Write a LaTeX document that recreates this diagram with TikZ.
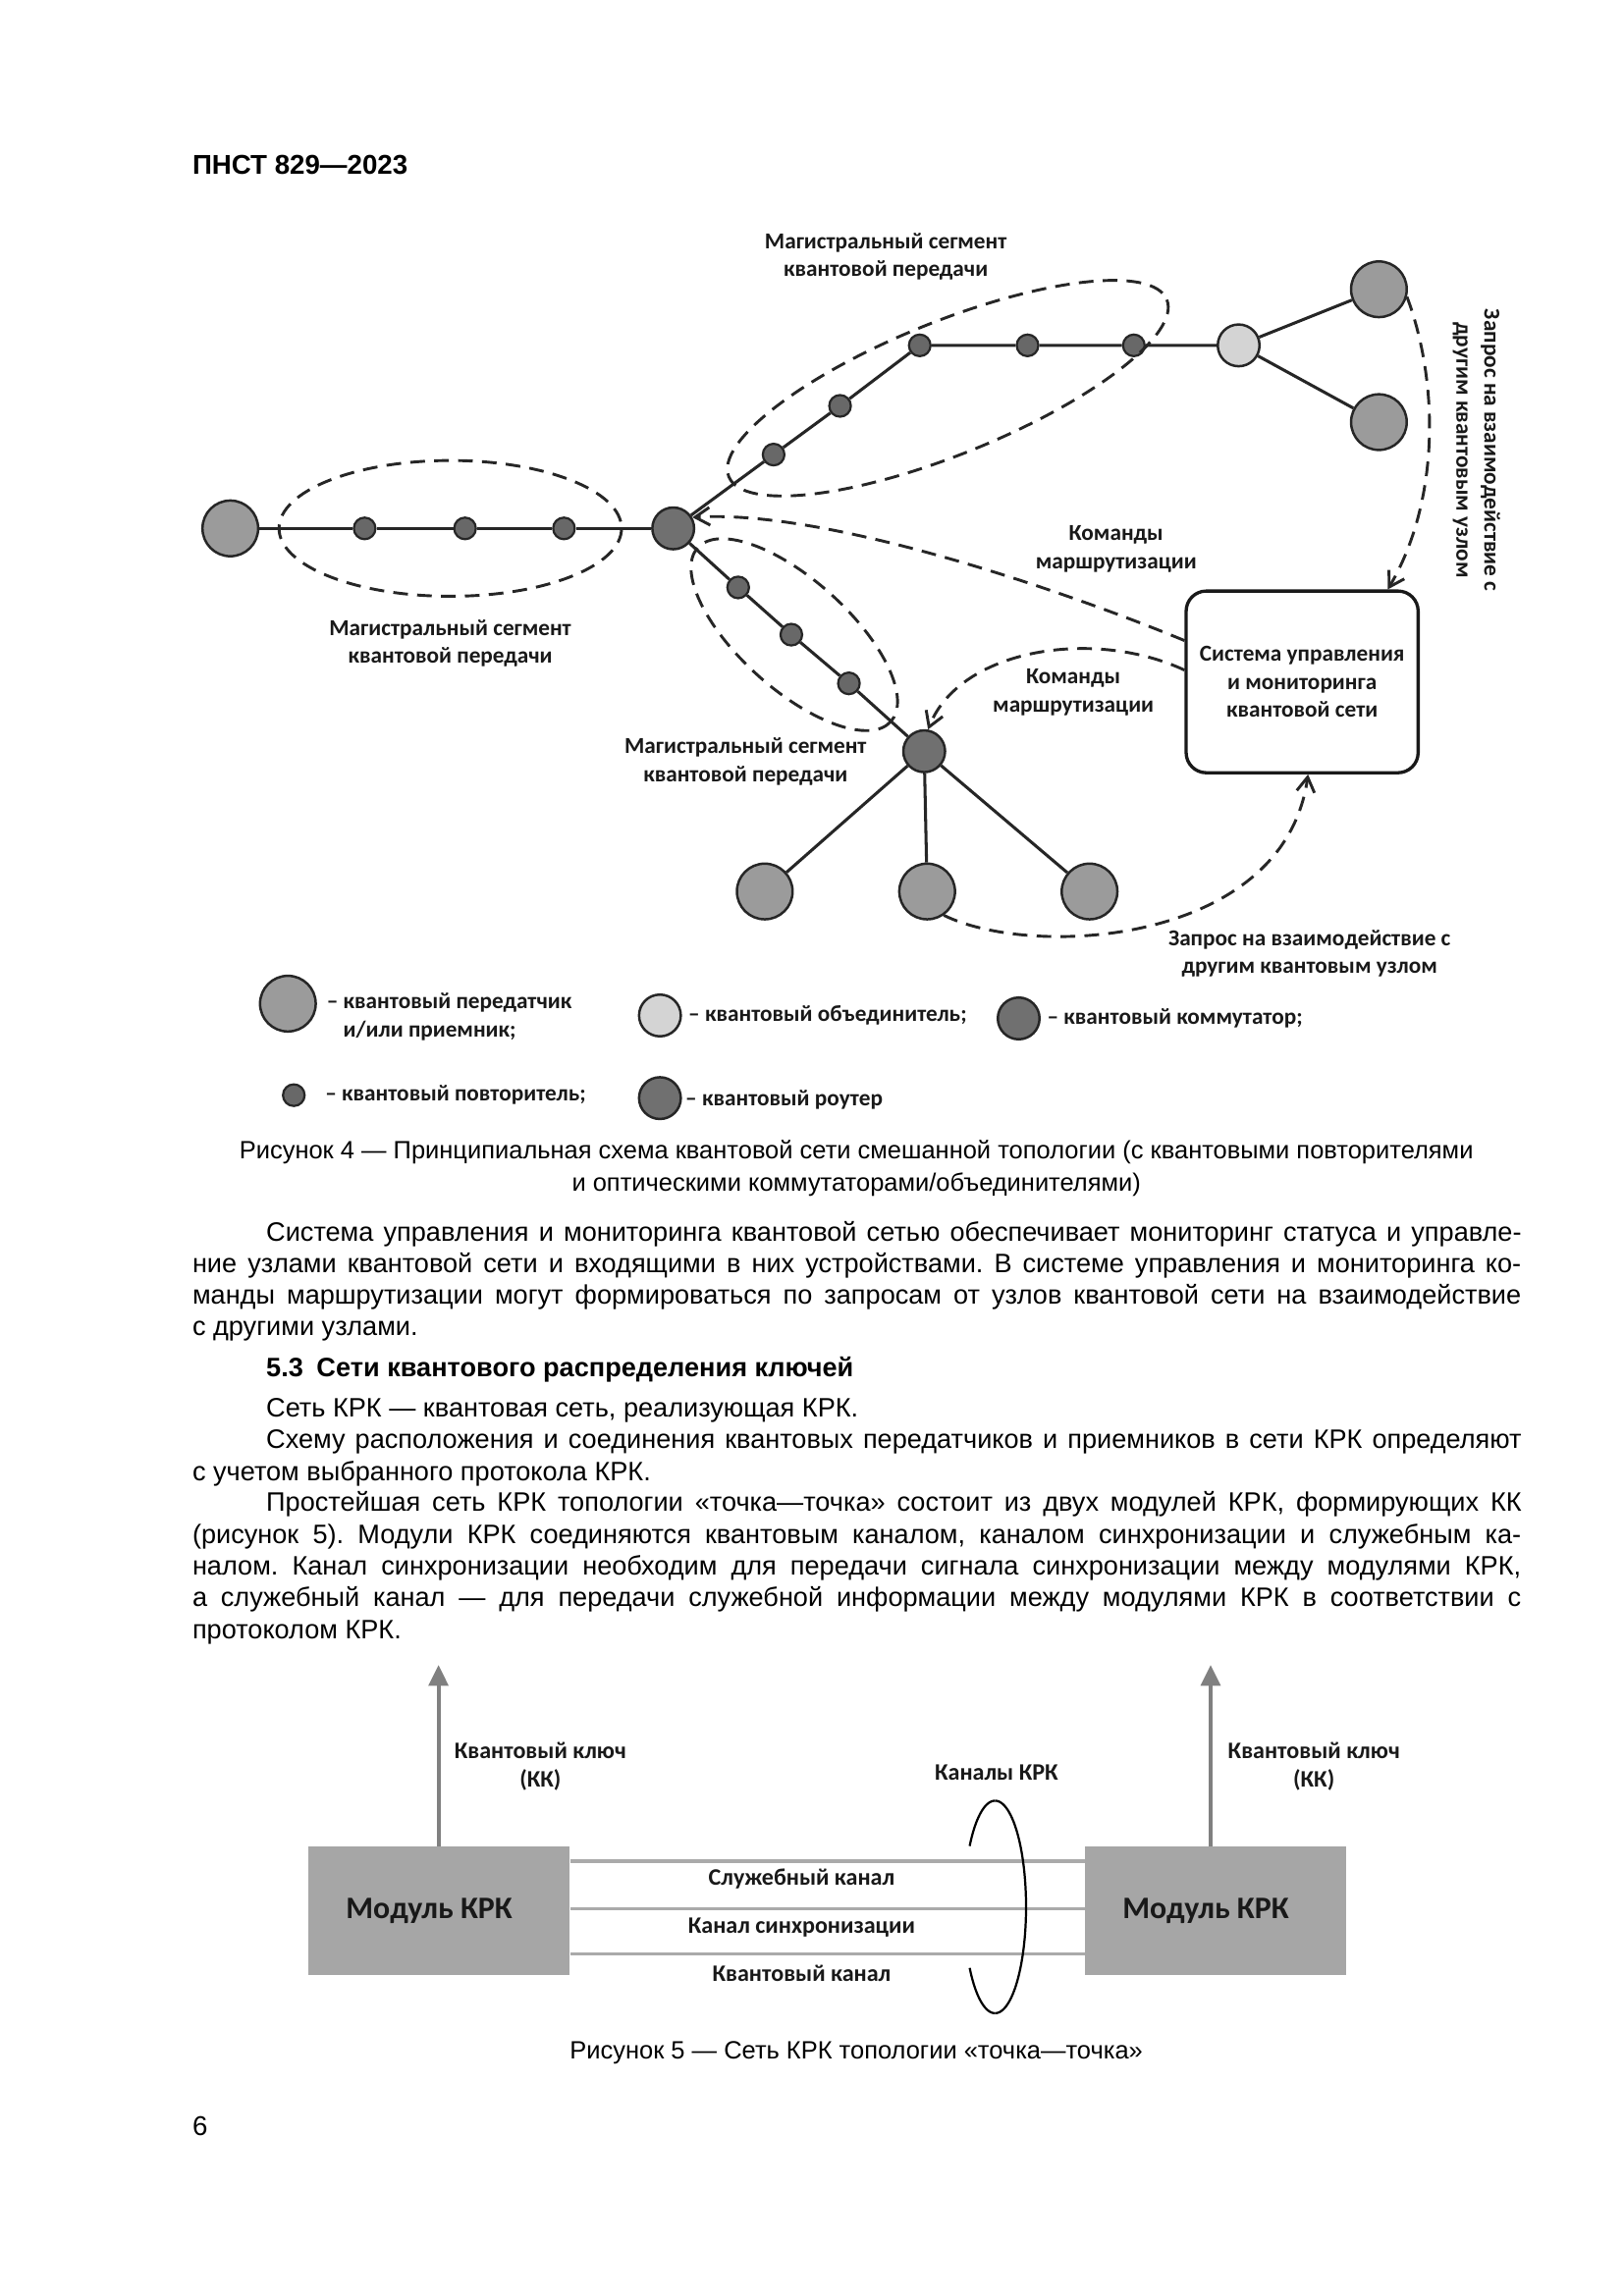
\documentclass[tikz,border=0pt]{standalone}
\usepackage{fontspec}
\setmainfont{Liberation Sans}
\newfontfamily\figfont{Carlito}
\usetikzlibrary{arrows.meta}
\definecolor{cterm}{RGB}{155,155,155}
\definecolor{crout}{RGB}{112,112,112}
\definecolor{crep}{RGB}{104,104,104}
\definecolor{ccomb}{RGB}{212,212,212}
\definecolor{cmod}{RGB}{166,166,166}
\definecolor{cchan}{RGB}{170,170,170}
\definecolor{ckey}{RGB}{128,128,128}
\frenchspacing

\begin{document}
\begin{tikzpicture}[x=0.190909mm, y=-0.190909mm,
    every node/.style={inner sep=0pt},
    term/.style={circle, draw=black!85, line width=0.9pt, fill=cterm, minimum size=7.2mm},
    router/.style={circle, draw=black!85, line width=0.9pt, fill=crout, minimum size=5.4mm},
    combiner/.style={router, fill=ccomb},
    rep/.style={circle, draw=black!85, line width=0.8pt, fill=crep, minimum size=2.8mm},
    link/.style={line width=1.1pt, draw=black!85},
    seg/.style={line width=1.05pt, draw=black!85, dash pattern=on 5.4pt off 3.4pt},
    req/.style={seg, -{Straight Barb[length=1.9mm, width=2.3mm]}},
    lbl/.style={font=\figfont\bfseries\fontsize{8.4}{10.3}\selectfont, align=center, text=black!90},
    lblb/.style={font=\figfont\bfseries\fontsize{8.7}{10.6}\selectfont, align=center, text=black!90},
    module/.style={fill=cmod, minimum width=33.8mm, minimum height=16.6mm,
      font=\figfont\bfseries\fontsize{11.5}{13}\selectfont, text=black!90},
    chan/.style={line width=1.2pt, draw=cchan},
    key/.style={line width=1.5pt, draw=ckey, -{Triangle[length=2.7mm, width=2.5mm, fill=ckey]}},
    body/.style={font=\fontsize{9.8}{11.7}\selectfont, anchor=base west},
    capt/.style={font=\fontsize{9.2}{11}\selectfont, anchor=base},
  ]
  \fill[white] (0,0) rectangle (1100,1555.6);
  \useasboundingbox (0,0) rectangle (1100,1555.6);

  % Encabezado
  \node[font=\bfseries\fontsize{10}{12}\selectfont, anchor=base west] (hdr) at (130,118) {ПНСТ 829—2023};

  % Nodos de la red
  \node[term] (tL) at (156,358) {};
  \node[rep] (a1) at (247,358) {};
  \node[rep] (a2) at (315,358) {};
  \node[rep] (a3) at (382,358) {};
  \node[router] (rt) at (456,358) {};
  \node[rep] (b1) at (524,308) {};
  \node[rep] (b2) at (569,275) {};
  \node[rep] (b3) at (623,234) {};
  \node[rep] (b4) at (696,234) {};
  \node[rep] (b5) at (768,234) {};
  \node[combiner] (cb) at (839,234) {};
  \node[term] (tU) at (934,196) {};
  \node[term] (tD) at (934,286) {};
  \node[rep] (c1) at (500,398) {};
  \node[rep] (c2) at (536,430) {};
  \node[rep] (c3) at (575,463) {};
  \node[router] (sw) at (626,509) {};
  \node[term] (s1) at (518,604) {};
  \node[term] (s2) at (628,604) {};
  \node[term] (s3) at (738,604) {};

  % Enlaces
  \draw[link] (tL) -- (a1) -- (a2) -- (a3) -- (rt);
  \draw[link] (rt) -- (b1) -- (b2) -- (b3) -- (b4) -- (b5) -- (cb);
  \draw[link] (cb) -- (tU);
  \draw[link] (cb) -- (tD);
  \draw[link] (rt) -- (c1) -- (c2) -- (c3) -- (sw);
  \draw[link] (sw) -- (s1);
  \draw[link] (sw) -- (s2);
  \draw[link] (sw) -- (s3);

  % Segmentos (elipses)
  \draw[seg] (305,358) ellipse (116 and 46);
  \draw[seg, rotate around={22:(642,263)}] (642,263) ellipse (160 and 45);
  \draw[seg, rotate around={-42:(538,430)}] (538,430) ellipse (88 and 37);
  \node[lbl] (segL) at (305,436) {Магистральный сегмент\\квантовой передачи};
  \node[lbl] (segU) at (600,174) {Магистральный сегмент\\квантовой передачи};
  \node[lbl] (segD) at (505,516) {Магистральный сегмент\\квантовой передачи};

  % Sistema de control
  \node[lbl, draw=black!90, line width=1.2pt, rounded corners=2.6mm,
    minimum width=30mm, minimum height=23.5mm] (ctrl) at (882,462)
    {Система управления\\и мониторинга\\квантовой сети};

  % Flechas discontinuas
  \draw[req] (ctrl.west |- 0,434) .. controls (720,400) and (560,345) .. (rt.30);
  \draw[req] (ctrl.west |- 0,454) .. controls (740,425) and (650,440) .. (sw.80);
  \draw[req] (s2.-55) .. controls (700,650) and (870,640) .. (ctrl.south -| 886,0);
  \draw[req] (tU.-15) .. controls (975,260) and (975,340) .. (ctrl.north -| 940,0);
  \node[lbl] (cmdU) at (756,372) {Команды\\маршрутизации};
  \node[lbl] (cmdD) at (727,469) {Команды\\маршрутизации};
  \node[lbl, rotate=-90] (reqU) at (1000,305) {Запрос на взаимодействие с\\другим квантовым узлом};
  \node[lbl] (reqD) at (887,646) {Запрос на взаимодействие с\\другим квантовым узлом};

  % Leyenda
  \node[term] (lgT) at (195,680) {};
  \node[lbl, anchor=west, align=left] (lgTt) at (221,689) {– квантовый передатчик\\\hphantom{–~}и/или приемник;};
  \node[combiner] (lgC) at (447,688) {};
  \node[lbl, anchor=west] (lgCt) at (466,688) {– квантовый объединитель;};
  \node[router] (lgS) at (690,690) {};
  \node[lbl, anchor=west] (lgSt) at (709,690) {– квантовый коммутатор;};
  \node[rep] (lgR) at (199,742) {};
  \node[lbl, anchor=west] (lgRt) at (220,742) {– квантовый повторитель;};
  \node[router] (lgQ) at (447,744) {};
  \node[lbl, anchor=west] (lgQt) at (464,745) {– квантовый роутер};

  % Pie de figura 4
  \node[capt] (cap4a) at (580,785) {Рисунок 4 — Принципиальная схема квантовой сети смешанной топологии (с квантовыми повторителями};
  \node[capt] (cap4b) at (580,807) {и оптическими коммутаторами/объединителями)};

  % Texto
  \node[body] (p1a) at (180,841) {\makebox[162.3mm][s]{Система управления и мониторинга квантовой сетью обеспечивает мониторинг статуса и управле-}};
  \node[body] (p1b) at (130,862) {\makebox[171.8mm][s]{ние узлами квантовой сети и входящими в них устройствами. В системе управления и мониторинга ко-}};
  \node[body] (p1c) at (130,883.5) {\makebox[171.8mm][s]{манды маршрутизации могут формироваться по запросам от узлов квантовой сети на взаимодействие}};
  \node[body] (p1d) at (130,905) {с другими узлами.};
  \node[body, font=\bfseries\fontsize{9.8}{11.7}\selectfont] (h53) at (180,933) {5.3\hspace{0.5em}Сети квантового распределения ключей};
  \node[body] (p2a) at (180,960) {Сеть КРК — квантовая сеть, реализующая КРК.};
  \node[body] (p3a) at (180,981.5) {\makebox[162.3mm][s]{Схему расположения и соединения квантовых передатчиков и приемников в сети КРК определяют}};
  \node[body] (p3b) at (130,1003) {с учетом выбранного протокола КРК.};
  \node[body] (p4a) at (180,1024) {\makebox[162.3mm][s]{Простейшая сеть КРК топологии «точка—точка» состоит из двух модулей КРК, формирующих КК}};
  \node[body] (p4b) at (130,1046) {\makebox[171.8mm][s]{(рисунок 5). Модули КРК соединяются квантовым каналом, каналом синхронизации и служебным ка-}};
  \node[body] (p4c) at (130,1067) {\makebox[171.8mm][s]{налом. Канал синхронизации необходим для передачи сигнала синхронизации между модулями КРК,}};
  \node[body] (p4d) at (130,1088.5) {\makebox[171.8mm][s]{а служебный канал — для передачи служебной информации между модулями КРК в соответствии с}};
  \node[body] (p4e) at (130,1110) {протоколом КРК.};

  % Figura 5: modulos y canales
  \node[module] (mL) at (297.5,1294.5) {\hspace*{-2.6mm}Модуль КРК};
  \node[module] (mR) at (823.5,1294.5) {\hspace*{-2.6mm}Модуль КРК};
  \draw[chan] (mL.east |- 0,1261) -- (mR.west |- 0,1261);
  \draw[chan] (mL.east |- 0,1293) -- (mR.west |- 0,1293);
  \draw[chan] (mL.east |- 0,1324) -- (mR.west |- 0,1324);
  \node[lblb] (chS) at (543,1273) {Служебный канал};
  \node[lblb] (chC) at (543,1306) {Канал синхронизации};
  \node[lblb] (chQ) at (543,1337) {Квантовый канал};

  % Lazo de canales
  \draw[line width=0.8pt] plot[domain=-90:90, samples=60] ({674+21*cos(\x)},{1292+72*sin(\x)});
  \draw[line width=0.8pt] plot[domain=215:270, samples=20] ({674+21*cos(\x)},{1292+72*sin(\x)});
  \draw[line width=0.8pt] plot[domain=90:145, samples=20] ({674+21*cos(\x)},{1292+72*sin(\x)});
  \node[lblb] (chans) at (675,1201) {Каналы КРК};

  % Claves cuanticas
  \coordinate (kL) at (297,1128);
  \coordinate (kR) at (820,1128);
  \draw[key] (mL.north -| kL) -- (kL);
  \draw[key] (mR.north -| kR) -- (kR);
  \node[lblb] (kkL) at (366,1197) {Квантовый ключ\\(КК)};
  \node[lblb] (kkR) at (890,1197) {Квантовый ключ\\(КК)};

  % Pie de figura 5 y pagina
  \node[capt] (cap5) at (580,1395) {Рисунок 5 — Сеть КРК топологии «точка—точка»};
  \node[body, font=\fontsize{10}{12}\selectfont] (pg) at (130,1447) {6};
\end{tikzpicture}
\end{document}
